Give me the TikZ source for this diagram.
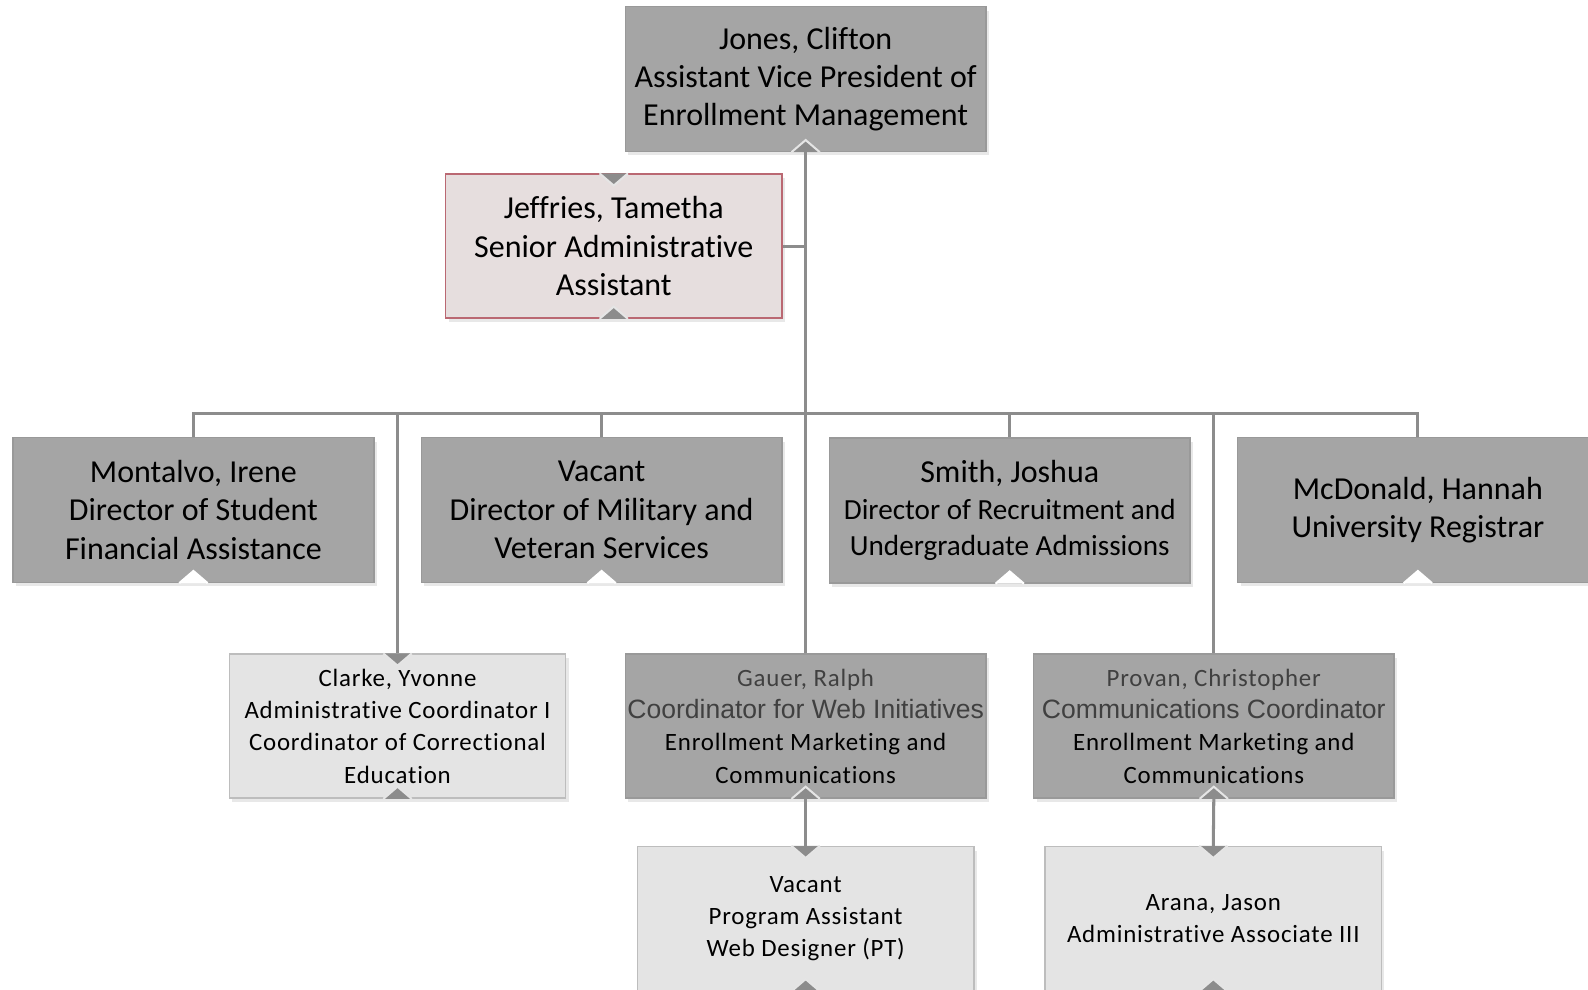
\documentclass[tikz,border=0pt]{standalone}
\usepackage{fontspec}
\setmainfont{Carlito}[Ligatures=CommonOff]
\newfontfamily\loosefont{Carlito}[Ligatures=CommonOff,LetterSpace=3.2]
\newfontfamily\arialfont{Liberation Sans}
\usetikzlibrary{shadows}

\definecolor{boxdark}{HTML}{A5A5A5}
\definecolor{boxdarkline}{HTML}{999999}
\definecolor{boxlight}{HTML}{E4E4E4}
\definecolor{boxlightline}{HTML}{BDBDBD}
\definecolor{boxrose}{HTML}{E6DEDE}
\definecolor{boxroseline}{HTML}{BA6872}
\definecolor{linkgray}{HTML}{8C8C8C}
\definecolor{txtgray}{HTML}{404040}

\tikzstyle{unit}=[rectangle,inner sep=0pt,align=center,line width=0.8pt,
  drop shadow={shadow xshift=1.5pt,shadow yshift=-2pt,opacity=0.18}]
\tikzstyle{head}=[unit,fill=boxdark,draw=boxdarkline,minimum width=178pt,minimum height=71.5pt,
  font=\fontsize{15.8}{18.9}\selectfont]
\tikzstyle{aide}=[unit,fill=boxrose,draw=boxroseline,minimum width=166pt,minimum height=71pt,
  font=\fontsize{15.8}{19}\selectfont]
\tikzstyle{coord}=[unit,fill=boxdark,draw=boxdarkline,minimum width=178pt,minimum height=71pt,
  font=\loosefont\fontsize{12.3}{16}\selectfont]
\tikzstyle{staff}=[unit,fill=boxlight,draw=boxlightline,minimum width=166pt,minimum height=71pt,
  font=\loosefont\fontsize{12.3}{16}\selectfont]
\tikzstyle{edge} = [draw,linkgray,line width=1.5pt]
\tikzstyle{tab}=[fill=white,draw=white,line width=1pt]
\tikzstyle{tabin}=[fill=linkgray,draw=white!90!black,line width=1pt]

\begin{document}
\begin{tikzpicture}[x=0.5pt,y=-0.5pt]
			\useasboundingbox (0,0) rectangle (1568,977);
			% top of the chart
			\node[head] (jones) at (795.5,78) {Jones, Clifton\\Assistant Vice President of\\Enrollment Management};
			\node[aide] (jeffries) at (606,243) {Jeffries, Tametha\\Senior Administrative\\Assistant};
			% directors
			\node[head] (montalvo) at (191,503.5) {Montalvo, Irene\\Director of Student\\Financial Assistance};
			\node[head] (milvacant) at (594,503.5) {Vacant\\Director of Military and\\Veteran Services};
			\node[head,font=\fontsize{15.8}{18}\selectfont] (smith) at (997,504) {Smith, Joshua\\{\fontsize{14.4}{18}\selectfont Director of Recruitment and}\\{\fontsize{14.4}{18}\selectfont Undergraduate Admissions}};
			\node[head] (mcdonald) at (1400,503.5) {McDonald, Hannah\\University Registrar};
			% coordinators
			\node[staff] (clarke) at (392.5,717) {Clarke, Yvonne\\Administrative Coordinator I\\Coordinator of Correctional\\Education};
			\node[coord] (gauer) at (795.5,717) {{\color{txtgray}Gauer, Ralph}\\{\arialfont\fontsize{13.1}{16}\selectfont\color{txtgray}Coordinator for Web Initiatives}\\Enrollment Marketing and\\Communications};
			\node[coord] (provan) at (1198.5,717) {{\color{txtgray}Provan, Christopher}\\{\arialfont\fontsize{13.1}{16}\selectfont\color{txtgray}Communications Coordinator}\\Enrollment Marketing and\\Communications};
			% support staff
			\node[staff] (webvacant) at (795.5,907) {Vacant\\Program Assistant\\Web Designer (PT)};
			\node[staff] (arana) at (1198,907) {Arana, Jason\\Administrative Associate III};
			\coordinate (bus) at (795.5,408);
			% Connect the boxes
			\path[edge] (jones.south) -- (bus);
			\path[edge] (jeffries.east) -- (jeffries.east -| jones.south);
			\foreach \dest in {montalvo, milvacant, smith, mcdonald, clarke, gauer, provan}
				\path[edge] (bus) -| (\dest.north);
			\foreach \source/ \dest in {gauer/webvacant, provan/arana}
				\path[edge] (\source.south) -- (\dest.north);
			% notches on the boxes
			\foreach \n in {montalvo, milvacant, smith, mcdonald}
				\path[tab] ([xshift=-7pt]\n.south) -- ([yshift=6pt]\n.south) -- ([xshift=7pt]\n.south);
			\foreach \n in {jones, jeffries, clarke, gauer, provan, webvacant, arana}
				\path[tabin] ([xshift=-7pt]\n.south) -- ([yshift=6pt]\n.south) -- ([xshift=7pt]\n.south);
			\foreach \n in {jeffries, clarke, webvacant, arana}
				\path[tabin] ([xshift=-7pt]\n.north) -- ([yshift=-6pt]\n.north) -- ([xshift=7pt]\n.north);
		\end{tikzpicture}
\end{document}
